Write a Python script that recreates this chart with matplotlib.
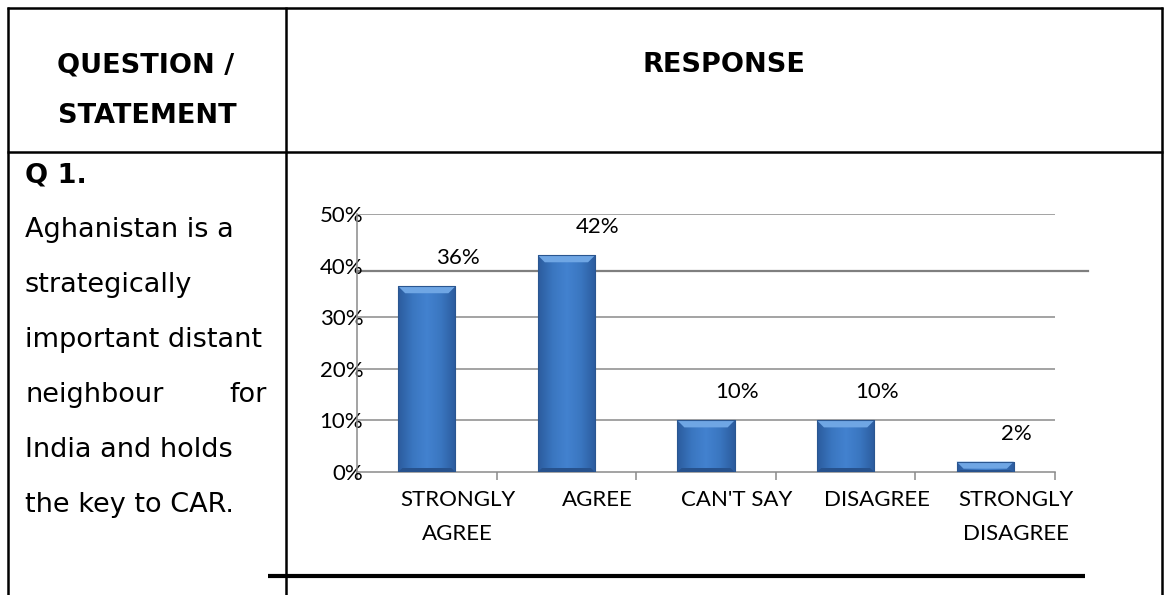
import numpy as np
import matplotlib
matplotlib.use('Agg')
import matplotlib.pyplot as plt
import matplotlib.transforms as mtransforms
from matplotlib.colors import LinearSegmentedColormap
from matplotlib.patches import Polygon
from matplotlib.lines import Line2D

# ---------------- data ----------------
categories = ["STRONGLY\nAGREE", "AGREE", "CAN'T SAY", "DISAGREE", "STRONGLY\nDISAGREE"]
values = [36, 42, 10, 10, 2]
value_labels = ["36%", "42%", "10%", "10%", "2%"]
y_ticks = [0, 10, 20, 30, 40, 50]
y_tick_labels = ["0%", "10%", "20%", "30%", "40%", "50%"]
header_left = ["QUESTION /", "STATEMENT"]
header_right = "RESPONSE"
question_no = "Q 1."
question_lines = ["Aghanistan is a", "strategically", "important distant",
                  "neighbour for", "India and holds", "the key to CAR."]

W, H = 1166, 595
fig = plt.figure(figsize=(W / 100, H / 100), dpi=100)
fig.patch.set_facecolor('white')


def fx(x):
    return x / W


def fy(y):
    return 1 - y / H


# ---------------- table frame ----------------
LW = 1.8


def hline(y, x0, x1, lw=LW):
    fig.add_artist(Line2D([fx(x0), fx(x1)], [fy(y), fy(y)], color='black',
                          lw=lw, solid_capstyle='butt'))


def vline(x, y0, y1, lw=LW):
    fig.add_artist(Line2D([fx(x), fx(x)], [fy(y0), fy(y1)], color='black',
                          lw=lw, solid_capstyle='butt'))


hline(8, 7, 1163)
hline(152, 7, 1163)
vline(8, 7, 595)
vline(286, 7, 595)
vline(1162, 7, 595)
hline(576, 268, 1085, lw=3.0)

# ---------------- table text ----------------
tfont = dict(family='DejaVu Sans', fontsize=19.5, color='black')
fig.text(fx(146), fy(72), header_left[0], ha='center', va='baseline', fontweight='bold', **tfont)
fig.text(fx(147), fy(123), header_left[1], ha='center', va='baseline', fontweight='bold', **tfont)
fig.text(fx(724), fy(72), header_right, ha='center', va='baseline', fontweight='bold', **tfont)
fig.text(fx(25), fy(183), question_no, ha='left', va='baseline', fontweight='bold', **tfont)

for i, line in enumerate(question_lines):
    yb = fy(237 + 55 * i)
    if line == "neighbour for":
        left, right = line.split(" ")
        fig.text(fx(25), yb, left, ha='left', va='baseline', **tfont)
        fig.text(fx(267), yb, right, ha='right', va='baseline', **tfont)
    else:
        fig.text(fx(25), yb, line, ha='left', va='baseline', **tfont)

# ---------------- chart ----------------
cfont = dict(family='Lato', fontsize=16, color='black')
ax = fig.add_axes([fx(357), fy(472), (1055 - 357) / W, (472 - 214) / H])
ax.set_facecolor('none')
x = np.arange(len(values))
ax.set_xlim(-0.5, len(values) - 0.5)
ax.set_ylim(0, 50)

bars = ax.bar(x, values, width=0.41, color='#3C79C4', edgecolor='#2B5893',
              linewidth=0.7, zorder=3)

grad_cmap = LinearSegmentedColormap.from_list(
    'bar', ['#2C5C9E', '#3A76C0', '#4382CF', '#3A76C0', '#2C5C9E'])
grad = np.linspace(0, 1, 64).reshape(1, -1)

px_per_x = (1055 - 357) / len(values)
px_per_y = (472 - 214) / 50.0
bev_px = 7
for b in bars:
    x0, w, h = b.get_x(), b.get_width(), b.get_height()
    im = ax.imshow(grad, extent=[x0, x0 + w, 0, h], aspect='auto', cmap=grad_cmap,
                   zorder=3.5, interpolation='bilinear')
    im.set_clip_path(b)
    dx = bev_px / px_per_x
    dy = min(bev_px / px_per_y, h * 0.7)
    top = Polygon([[x0, h], [x0 + w, h], [x0 + w - dx, h - dy], [x0 + dx, h - dy]],
                  closed=True, facecolor='#6FA6E4', edgecolor='none', zorder=3.7)
    ax.add_patch(top)
    dyb = min(4 / px_per_y, h * 0.2)
    bot = Polygon([[x0, 0], [x0 + w, 0], [x0 + w - dx * 0.6, dyb], [x0 + dx * 0.6, dyb]],
                  closed=True, facecolor='#27528D', edgecolor='none', zorder=3.7)
    ax.add_patch(bot)
    edge = plt.Rectangle((x0, 0), w, h, fill=False, edgecolor='#2A5690', lw=0.8, zorder=3.8)
    ax.add_patch(edge)

# grid lines
grid_color = '#8A8A8A'
for yv in y_ticks[1:]:
    if yv == 40:
        continue
    ax.axhline(yv, color=grid_color, lw=1.1, zorder=1)
tr40 = mtransforms.offset_copy(ax.get_yaxis_transform(), fig=fig, x=0, y=-5, units='dots')
ax.add_line(Line2D([0, (1088 - 357) / (1055 - 357)], [40, 40], transform=tr40,
                   color='#7F7F7F', lw=1.6, clip_on=False, zorder=1))

for s in ['top', 'right']:
    ax.spines[s].set_visible(False)
for s in ['left', 'bottom']:
    ax.spines[s].set_color(grid_color)
    ax.spines[s].set_linewidth(1.1)
    ax.spines[s].set_zorder(2)

ax.set_yticks(y_ticks)
ax.set_yticklabels(y_tick_labels, **cfont)
ax.tick_params(axis='y', length=0, pad=-4.5)

ax.set_xticks(x)
ax.set_xticklabels(categories, linespacing=1.9, **cfont)
ax.set_xticks(np.arange(-0.5, len(values)), minor=True)
ax.tick_params(axis='x', which='major', length=0, pad=13)
ax.tick_params(axis='x', which='minor', length=5.8, width=1.1, color=grid_color, direction='out')
shift = mtransforms.ScaledTranslation(31 / 100, 0, fig.dpi_scale_trans)
for lab in ax.get_xticklabels():
    lab.set_transform(lab.get_transform() + shift)
    lab.set_multialignment('center')

for xi, v, lbl in zip(x, values, value_labels):
    ax.annotate(lbl, (xi, v), xytext=(31, 28), textcoords='offset pixels',
                ha='center', va='center', **cfont)

fig.savefig('out.png', dpi=100, facecolor='white')
